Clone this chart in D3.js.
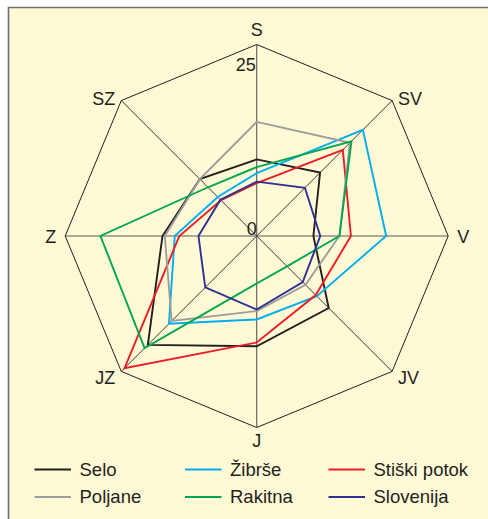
<!DOCTYPE html>
<html>
<head>
<meta charset="utf-8">
<script src="https://cdn.jsdelivr.net/npm/d3@7"></script>
<style>
  html, body { margin: 0; padding: 0; background: #fff; }
  svg { display: block; font-family: "Liberation Sans", Arial, Helvetica, sans-serif; }
</style>
</head>
<body>
<svg id="chart" width="488" height="519"></svg>
<script>
// Wind directions (Slovene compass abbreviations), clockwise from north
const directions = ["S", "SV", "V", "JV", "J", "JZ", "Z", "SZ"];

// Frequency of each direction per station
const selo       = [10.0, 11.7,  7.4, 13.3, 14.4, 20.1, 12.3, 10.5];
const zibrse     = [ 8.2, 19.6, 16.9, 11.1, 10.9, 16.2, 10.7,  7.2];
const stiskiPotok= [ 6.9, 15.9, 12.3, 10.9, 13.9, 24.4, 10.1,  6.6];
const poljane    = [14.9, 17.2, 10.8,  9.0,  9.8, 15.7, 12.0, 10.5];
const rakitna    = [ 9.0, 17.5, 10.8,  5.6,  6.2, 20.7, 20.4,  9.0];
const slovenija  = [ 7.1,  8.9,  8.3,  8.5,  9.6,  9.5,  7.6,  6.7];

const seriesNames  = ["Selo", "Žibrše", "Stiški potok", "Poljane", "Rakitna", "Slovenija"];
const seriesColors = ["#231f20", "#00aeef", "#ed1c24", "#9d9d9d", "#00a651", "#2e3192"];
const seriesValues = [selo, zibrse, stiskiPotok, poljane, rakitna, slovenija];

const radialTicks = [0, 25];

const svg = d3.select("#chart");
const W = 488, H = 519;
const cx = 256.7, cy = 236, R = 191.5;

// Background panel with border on top and left
svg.append("rect").attr("x", 0).attr("y", 0).attr("width", W).attr("height", H).attr("fill", "#ffffff");
svg.append("rect").attr("x", 8.5).attr("y", 7.5).attr("width", W).attr("height", H)
  .attr("fill", "#fff9d6");
svg.append("path").attr("d", `M8.5,${H} L8.5,7.5 L${W},7.5`)
  .attr("fill", "none").attr("stroke", "#6e6e6e").attr("stroke-width", 1.6);

const r = d3.scaleLinear().domain([0, 25]).range([0, R]);
const angle = d3.scalePoint().domain(directions).range([0, 2 * Math.PI * 7 / 8]);

const g = svg.append("g").attr("transform", `translate(${cx},${cy})`);

const pt = (dir, v) => {
  const a = angle(dir);
  return [Math.sin(a) * r(v), -Math.cos(a) * r(v)];
};

// Spokes
directions.forEach((d, i) => {
  const [x, y] = pt(d, 25);
  g.append("line").attr("x1", 0).attr("y1", 0).attr("x2", x).attr("y2", y)
    .attr("stroke", i % 2 === 0 ? "#5a5a5a" : "#231f20")
    .attr("stroke-width", i % 2 === 0 ? 1.1 : 0.9);
});

// Outer octagon
g.append("path")
  .attr("d", d3.lineRadial().angle(d => angle(d)).radius(() => r(25)).curve(d3.curveLinearClosed)(directions))
  .attr("fill", "none").attr("stroke", "#231f20").attr("stroke-width", 1);

// Series polygons
const radial = d3.lineRadial()
  .angle((d, i) => angle(directions[i]))
  .radius(d => r(d))
  .curve(d3.curveLinearClosed);

seriesValues.forEach((vals, k) => {
  g.append("path").attr("d", radial(vals))
    .attr("fill", "none").attr("stroke", seriesColors[k])
    .attr("stroke-width", 1.9).attr("stroke-linejoin", "miter");
});

// Radial tick labels
g.append("text").attr("x", -1).attr("y", -r(radialTicks[1]) + 26)
  .attr("text-anchor", "end").attr("font-size", 18).attr("fill", "#231f20")
  .text(radialTicks[1]);
g.append("text").attr("x", 0).attr("y", -r(radialTicks[0]) - 1)
  .attr("text-anchor", "end").attr("font-size", 18).attr("fill", "#231f20")
  .text(radialTicks[0]);

// Direction labels
const labelOffsets = {
  S:  { dx: 0,  dy: -15, anchor: "middle" },
  SV: { dx: 6,  dy: -2,  anchor: "start" },
  V:  { dx: 9,  dy: 1,   anchor: "start" },
  JV: { dx: 6,  dy: 6,   anchor: "start" },
  J:  { dx: 0,  dy: 13,  anchor: "middle" },
  JZ: { dx: -6, dy: 6,   anchor: "end" },
  Z:  { dx: -9, dy: 1,   anchor: "end" },
  SZ: { dx: -6, dy: -2,  anchor: "end" }
};
directions.forEach(d => {
  const [x, y] = pt(d, 25);
  const o = labelOffsets[d];
  g.append("text").attr("x", x + o.dx).attr("y", y + o.dy)
    .attr("dy", "0.35em").attr("text-anchor", o.anchor)
    .attr("font-size", 18).attr("fill", "#231f20").text(d);
});

// Legend: two rows, three columns
const legendX = [34.5, 185, 328.5];
const legendY = [469.5, 497];
seriesNames.forEach((name, k) => {
  const col = k % 3, row = Math.floor(k / 3);
  const lg = svg.append("g").attr("transform", `translate(${legendX[col]},${legendY[row]})`);
  lg.append("line").attr("x1", 0).attr("x2", 36.5).attr("y1", 0).attr("y2", 0)
    .attr("stroke", seriesColors[k]).attr("stroke-width", 1.9);
  lg.append("text").attr("x", 45).attr("y", 0).attr("dy", "0.35em")
    .attr("font-size", 18.5).attr("fill", "#231f20").text(name);
});
</script>
</body>
</html>
